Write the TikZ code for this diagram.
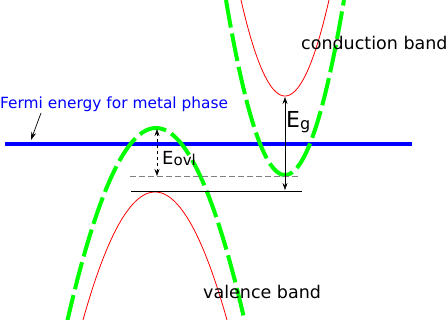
\documentclass[tikz,border=0pt]{standalone}
\usepackage{fontspec}
\setmainfont{DejaVu Sans}
\usetikzlibrary{arrows.meta}

\begin{document}
\begin{tikzpicture}[
        x=1pt, y=-1pt,
        band/.style={draw, red, line width=0.8pt},
        gband/.style={draw, green, line width=4pt, dash pattern=on 28pt off 6pt},
        level/.style={draw, line width=0.8pt},
        gap/.style={draw, line width=0.6pt, {Stealth[length=7pt,width=5pt]}-{Stealth[length=7pt,width=5pt]}},
        lbl/.style={inner sep=0pt, font=\fontsize{17.5}{20}\selectfont},
    ]
    \useasboundingbox (0,0) rectangle (448,320);

    % Fermi level of the metal phase
    \coordinate (fl) at (5,144);
    \coordinate (fr) at (412,144);
    \draw[blue, line width=4pt] (fl) -- (fr);

    % conduction band
    \draw[band] plot[domain=241:329, samples=60] (\x, {96-96*((\x-285)/44)*((\x-285)/44)});
    \draw[gband] plot[domain=226:344, samples=80] (\x, {175-175*((\x-285)/59)*((\x-285)/59)});

    % valence band
    \draw[band] plot[domain=83:227, samples=80] (\x, {192+128*((\x-155)/72)*((\x-155)/72)});
    \draw[gband] plot[domain=67:245, samples=80] (\x, {128+190*((\x-156)/88)*((\x-156)/88)});

    % band edges
    \coordinate (cbg) at (130,176);
    \coordinate (cbgend) at (298,176);
    \coordinate (vbr) at (131,191);
    \coordinate (vbrend) at (302,191);
    \draw[level, gray, dash pattern=on 6pt off 3pt] (cbg) -- (cbgend);
    \draw[level, black] (vbr) -- (vbrend);

    % gaps
    \coordinate (vbtop) at (157,129);
    \coordinate (cbbot) at (157,176);
    \draw[gap, dashed] (vbtop) -- (cbbot);
    \coordinate (cbmin) at (285,97);
    \coordinate (vbmax) at (285,190);
    \draw[gap] (cbmin) -- (vbmax);

    \node[inner sep=0pt, anchor=base west] (eovl) at (162,165)
        {\fontsize{18}{20}\selectfont E\raisebox{-1pt}{\fontsize{15}{17}\selectfont ovl}};
    \node[inner sep=0pt, anchor=base west] (eg) at (286,128)
        {\fontsize{22}{24}\selectfont E\raisebox{-1.5pt}{\fontsize{16}{18}\selectfont g}};

    % labels
    \node[lbl, anchor=base west] (cblabel) at (301,50) {conduction band};
    \node[lbl, anchor=base west] (vblabel) at (203,299) {valence band};
    \node[inner sep=0pt, anchor=base west, blue, font=\fontsize{15.4}{18}\selectfont] (fermi) at (0,109)
        {Fermi energy for metal phase};
    \coordinate (ftail) at (41,113);
    \coordinate (ftip) at (31,140);
    \draw[-{Stealth[length=8pt,width=5pt]}, line width=0.7pt] (ftail) -- (ftip);

\end{tikzpicture}
\end{document}
